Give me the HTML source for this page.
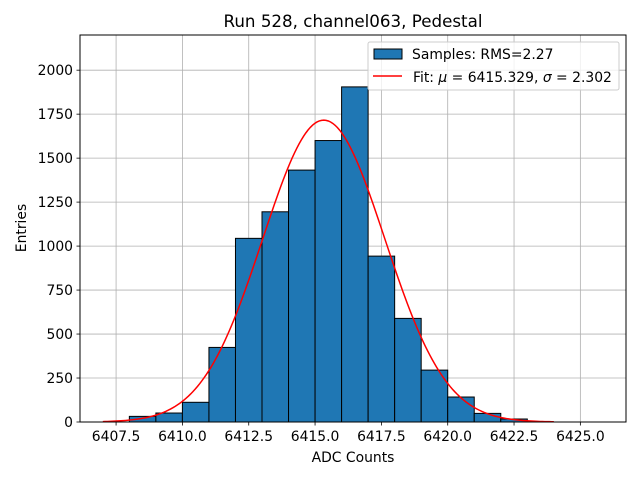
<!DOCTYPE html>
<html><head><meta charset="utf-8"><style>
body{margin:0;background:#fff}
svg{display:block;font-family:"DejaVu Sans","Liberation Sans",sans-serif}
</style></head><body>
<svg id="chart" width="640" height="480"></svg>
<script>
const binStarts=[6408,6409,6410,6411,6412,6413,6414,6415,6416,6417,6418,6419,6420,6421,6422];
const counts=[32,51,112,424,1044,1195,1432,1600,1905,943,589,295,142,49,17];
const fitMu=6415.329, fitSigma=2.302, fitAmp=1716;
const xTicks=[6407.5,6410.0,6412.5,6415.0,6417.5,6420.0,6422.5,6425.0];
const yTicks=[0,250,500,750,1000,1250,1500,1750,2000];
const L=80,R=626,T=35,B=422, xmin=6406.14,xmax=6426.72,ymin=0,ymax=2200;
const X=v=>L+(v-xmin)/(xmax-xmin)*(R-L);
const Y=v=>B-(v-ymin)/(ymax-ymin)*(B-T);
const svg=document.getElementById('chart');
const NS='http://www.w3.org/2000/svg';
function mk(tag,attrs,parent){const e=document.createElementNS(NS,tag);for(const k in attrs)e.setAttribute(k,attrs[k]);(parent||svg).appendChild(e);return e;}
xTicks.forEach(t=>{
 const g=mk('line',{x1:X(t),x2:X(t),y1:T,y2:B,stroke:'#b0b0b0','stroke-width':0.8});
 
 
});
yTicks.forEach(t=>{
 const g=mk('line',{x1:L,x2:R,y1:Y(t),y2:Y(t),stroke:'#b0b0b0','stroke-width':0.8});
 
 
});
binStarts.forEach((s,i)=>{
 const b=mk('rect',{x:X(s),y:Y(counts[i]),width:X(s+1)-X(s),height:Y(0)-Y(counts[i]),fill:'#1f77b4',stroke:'#000','stroke-width':1});
 
 
});
let d='';
for(let i=0;i<=200;i++){const v=6407+17*i/200;const y=fitAmp*Math.exp(-0.5*((v-fitMu)/fitSigma)**2);d+=(i?'L':'M')+X(v).toFixed(2)+','+Y(y).toFixed(2);}
const c=mk('path',{d:d,fill:'none',stroke:'#ff0000','stroke-width':1.5});


const f=mk('rect',{x:L,y:T,width:R-L,height:B-T,fill:'none',stroke:'#000','stroke-width':1});


xTicks.forEach(t=>{
 mk('line',{x1:X(t),x2:X(t),y1:B,y2:B+3.5,stroke:'#000','stroke-width':0.8});
 const tx=mk('text',{x:X(t),y:B+19,'text-anchor':'middle','font-size':13.9});
 tx.textContent=t.toFixed(1);
 
 
});
yTicks.forEach(t=>{
 mk('line',{x1:L-3.5,x2:L,y1:Y(t),y2:Y(t),stroke:'#000','stroke-width':0.8});
 const tx=mk('text',{x:L-7,y:Y(t)+5,'text-anchor':'end','font-size':13.9});
 tx.textContent=t;
 
 
});
</script>
<svg width="640" height="480" style="position:absolute;left:0;top:0">
 <text x="353" y="27" text-anchor="middle" font-size="16.7" font-family="DejaVu Sans, Liberation Sans, sans-serif">Run 528, channel063, Pedestal</text>
 <text x="353" y="462" text-anchor="middle" font-size="13.9" font-family="DejaVu Sans, Liberation Sans, sans-serif">ADC Counts</text>
 <text x="26" y="228" text-anchor="middle" font-size="13.9" font-family="DejaVu Sans, Liberation Sans, sans-serif" transform="rotate(-90 26 228)">Entries</text>
 <g font-family="DejaVu Sans, Liberation Sans, sans-serif" font-size="13.9">
  <rect x="368" y="42" width="251" height="48" rx="2" fill="#fff" fill-opacity="0.8" stroke="#ccc" stroke-width="1"/>
  <rect x="374" y="49" width="28" height="10" fill="#1f77b4" stroke="#000" stroke-width="1"/>
  <text x="412" y="59">Samples: RMS=2.27</text>
  <line x1="373" x2="402" y1="76" y2="76" stroke="#ff0000" stroke-width="1.5"/>
  <text x="413" y="82">Fit: <tspan font-style="italic">μ</tspan> = 6415.329, <tspan font-style="italic">σ</tspan> = 2.302</text>
 </g>
</svg>
</body></html>
